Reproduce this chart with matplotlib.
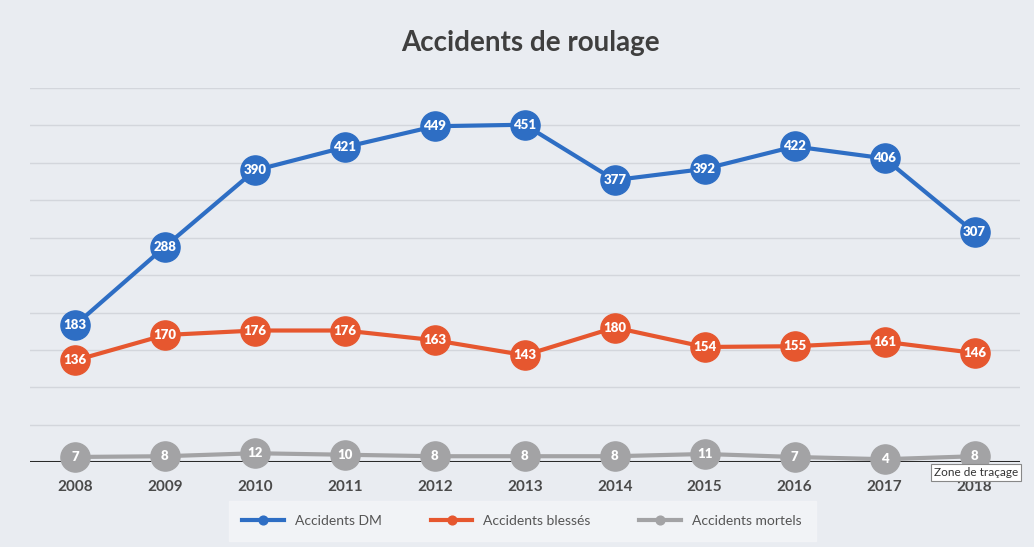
import matplotlib.pyplot as plt

plt.rcParams['font.family'] = ['Lato', 'DejaVu Sans']

years = ['2008', '2009', '2010', '2011', '2012', '2013', '2014', '2015', '2016', '2017', '2018']
accidents_dm = [183, 288, 390, 421, 449, 451, 377, 392, 422, 406, 307]
accidents_blesses = [136, 170, 176, 176, 163, 143, 180, 154, 155, 161, 146]
accidents_mortels = [7, 8, 12, 10, 8, 8, 8, 11, 7, 4, 8]

series = [
    ("Accidents DM", accidents_dm, '#2e6ec4'),
    ("Accidents blessés", accidents_blesses, '#e6572f'),
    ("Accidents mortels", accidents_mortels, '#a3a3a5'),
]

bg = '#e9ecf1'
fig = plt.figure(figsize=(10.34, 5.47), dpi=100, facecolor=bg)
ax = fig.add_axes([0.029, 0.155, 0.957, 0.684])
ax.set_facecolor(bg)

x = list(range(len(years)))
ax.axhline(0, color='#2a2a2a', linewidth=2.2, zorder=1)

for name, vals, col in series:
    ax.plot(x, vals, color=col, linewidth=3, marker='o', markersize=21,
            markeredgecolor=col, label=name, zorder=3, clip_on=False)
    for xi, v in zip(x, vals):
        ax.text(xi, v, str(v), ha='center', va='center', color='white',
                fontsize=9.5, fontweight='heavy', zorder=4)

ax.set_xlim(-0.5, len(years) - 0.5)
ax.set_ylim(0, 500)
ax.set_yticks(range(0, 501, 50))
ax.yaxis.grid(True, color='#d3d6dc', linewidth=1)
ax.set_axisbelow(True)
ax.tick_params(axis='y', left=False, labelleft=False)
ax.tick_params(axis='x', length=0, pad=13, labelsize=11, labelcolor='#4a4a4a')
ax.set_xticks(x)
ax.set_xticklabels(years, fontweight='bold')
for s in ax.spines.values():
    s.set_visible(False)

fig.text(0.513, 0.922, "Accidents de roulage", ha='center', va='center',
         fontsize=20, fontweight='bold', color='#3f3f3f')

leg = fig.legend(loc='center', bbox_to_anchor=(0.505, 0.047), ncol=3, frameon=True,
                 fontsize=10, markerscale=0.3, handlelength=3, columnspacing=3.5,
                 labelcolor='#555555', borderpad=0.7)
leg.get_frame().set_facecolor('#f4f5f8')
leg.get_frame().set_edgecolor('#f4f5f8')
leg.get_frame().set_boxstyle('square')

# tooltip visible in the screenshot
fig.text(0.903, 0.137, "Zone de traçage", ha='left', va='center', fontsize=8.5,
         color='#333333', bbox=dict(boxstyle='square,pad=0.25', fc='white', ec='#888888', lw=0.8))

plt.savefig('out.png', dpi=100, facecolor=bg)
